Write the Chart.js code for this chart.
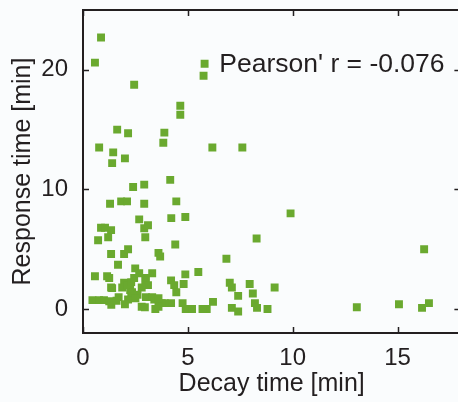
<!DOCTYPE html>
<html>
<head>
<meta charset="utf-8">
<script src="https://cdn.jsdelivr.net/npm/chart.js@4"></script>
<style>
  html, body { margin: 0; padding: 0; background: #fafcfd; overflow: hidden; }
  canvas { display: block; }
</style>
</head>
<body>
<canvas id="chart" width="458" height="402"></canvas>
<script>
// decay time [min] vs response time [min]
var decayTimes = [
  0.86, 0.57, 5.8, 5.75, 2.44, 4.64, 4.64, 1.63, 2.15, 3.88,
  3.83, 6.17, 7.6, 0.77, 1.44, 2.0, 1.39, 2.39, 2.92, 4.16,
  1.29, 1.82, 2.1, 2.92, 4.45, 2.68, 4.21, 4.88, 8.28, 0.86,
  1.05, 1.34, 0.72, 1.2, 2.92, 3.1, 2.97, 4.4, 1.34, 1.96,
  2.15, 3.6, 3.68, 1.67, 6.84, 5.5, 4.88, 0.57, 1.15, 1.25,
  1.34, 2.49, 3.3, 3.0, 4.2, 4.35, 4.45, 4.8, 7.0, 7.1,
  7.4, 7.95, 8.1, 9.14, 8.3, 7.1, 7.4, 6.2, 5.9, 5.7,
  4.75, 4.9, 5.2, 4.2, 3.9, 3.6, 3.45, 3.75, 2.8, 2.95,
  3.0, 3.3, 3.4, 3.6, 0.45, 0.77, 1.0, 1.25, 1.35, 1.7,
  2.15, 2.3, 2.25, 1.96, 1.87, 2.1, 2.3, 2.44, 2.34, 2.68,
  2.97, 3.1, 2.8, 1.39, 9.9, 16.27, 8.8, 13.06, 15.07, 16.17,
  16.5, 8.2, 2.6, 2.0, 2.5, 1.6
]
var responseTimes = [
  22.7, 20.6, 20.5, 19.5, 18.75, 17.0, 16.25, 15.0, 14.7, 14.75,
  13.9, 13.5, 13.5, 13.5, 13.1, 12.6, 12.2, 10.2, 10.4, 10.8,
  8.8, 9.0, 9.0, 8.8, 9.0, 7.5, 7.6, 7.7, 5.9, 6.8,
  6.8, 6.6, 5.75, 6.0, 6.75, 7.0, 6.0, 5.4, 4.6, 4.6,
  5.0, 4.7, 4.4, 3.7, 4.2, 3.1, 2.9, 2.75, 2.75, 2.6,
  1.8, 3.4, 3.0, 2.6, 2.4, 2.0, 1.4, 2.1, 2.2, 1.8,
  1.1, 2.1, 1.3, 1.8, 0.1, 0.1, -0.2, 0.6, 0.0, 0.0,
  0.5, 0.0, 0.0, 0.5, 0.5, 0.2, 0.0, 0.5, 0.2, 0.15,
  1.0, 1.0, 0.8, 0.9, 0.75, 0.75, 0.75, 0.65, 0.35, 1.0,
  0.8, 1.3, 1.6, 2.2, 1.8, 2.0, 2.25, 2.6, 1.4, 3.0,
  2.4, 2.0, 1.8, 1.75, 8.0, 5.0, 0.0, 0.15, 0.4, 0.1,
  0.5, 0.5, 1.2, 0.4, 0.9, 0.7
]
var xTicks = [0, 5, 10, 15]
var yTicks = [0, 10, 20]
var pearsonText = "Pearson' r = -0.076"

var points = decayTimes.map(function (x, i) { return { x: x, y: responseTimes[i] } })

var ink = "#231f20"
var font = "'Liberation Sans', Arial, Helvetica, sans-serif"

// the right side of the box sits just past the edge of the picture
var overhangPlugin = {
  id: "overhang",
  afterLayout: function (chart) {
    var xs = chart.scales.x
    var extra = 8
    chart.chartArea.right += extra
    chart.chartArea.width += extra
    xs.right += extra
    xs.width += extra
    xs.configure()
  }
}

// MATLAB style box with inward ticks + the correlation label
var boxPlugin = {
  id: "box",
  afterDraw: function (chart) {
    var ctx = chart.ctx
    var a = chart.chartArea
    var xs = chart.scales.x
    var ys = chart.scales.y
    ctx.save()
    ctx.strokeStyle = ink
    ctx.lineWidth = 2
    ctx.strokeRect(a.left, a.top, a.right - a.left, a.bottom - a.top)
    ctx.lineWidth = 1.5
    ctx.beginPath()
    xTicks.forEach(function (v) {
      var px = Math.round(xs.getPixelForValue(v)) + 0.5
      ctx.moveTo(px, a.bottom); ctx.lineTo(px, a.bottom - 6)
      ctx.moveTo(px, a.top); ctx.lineTo(px, a.top + 6)
    })
    yTicks.forEach(function (v) {
      var py = Math.round(ys.getPixelForValue(v)) + 0.5
      ctx.moveTo(a.left, py); ctx.lineTo(a.left + 6, py)
      ctx.moveTo(a.right, py); ctx.lineTo(a.right - 6, py)
    })
    ctx.stroke()
    ctx.fillStyle = ink
    ctx.font = "26.5px " + font
    ctx.textBaseline = "middle"
    ctx.fillText(pearsonText, xs.getPixelForValue(6.5), ys.getPixelForValue(20.45))
    ctx.restore()
  }
}

new Chart(document.getElementById("chart"), {
  type: "scatter",
  data: {
    datasets: [{
      data: points,
      pointStyle: "rect",
      pointRadius: 5.6,
      pointHoverRadius: 5.6,
      backgroundColor: "#6aa92f",
      borderWidth: 0,
    }],
  },
  options: {
    responsive: false,
    animation: false,
    events: [],
    layout: { padding: { top: 10, right: 0, left: 0, bottom: 0 } },
    plugins: { legend: { display: false }, tooltip: { enabled: false } },
    scales: {
      x: {
        type: "linear",
        min: 0,
        max: 18,
        afterBuildTicks: function (s) { s.ticks = xTicks.map(function (v) { return { value: v } }) },
        afterFit: function (s) { s.height = 69; s.paddingLeft = 0; s.paddingRight = 0 },
        grid: { display: false },
        border: { display: false },
        ticks: { color: ink, font: { size: 24, family: font }, padding: 3, maxRotation: 0 },
        title: {
          display: true,
          text: "Decay time [min]",
          color: ink,
          font: { size: 25, family: font },
          padding: { top: 0, bottom: 3 },
        },
      },
      y: {
        type: "linear",
        min: -2,
        max: 25,
        afterBuildTicks: function (s) { s.ticks = yTicks.map(function (v) { return { value: v } }) },
        afterFit: function (s) { s.width = 83; s.paddingTop = 0; s.paddingBottom = 0 },
        grid: { display: false },
        border: { display: false },
        ticks: { color: ink, font: { size: 24, family: font }, padding: 7 },
        title: {
          display: true,
          text: "Response time [min]",
          color: ink,
          font: { size: 25, family: font },
          padding: { top: 8, bottom: 0 },
        },
      },
    },
  },
  plugins: [overhangPlugin, boxPlugin],
})
</script>
</body>
</html>
